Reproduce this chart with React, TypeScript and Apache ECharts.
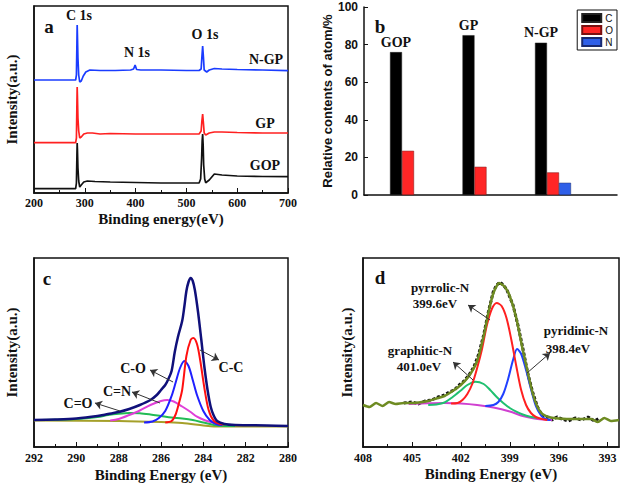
import React, { useEffect, useRef } from "react";
import * as echarts from "echarts";

const SERIF = '"Liberation Serif", "Times New Roman", serif';
const SANS = '"Liberation Sans", Arial, sans-serif';

// ---------- Panel a : XPS survey (binding energy eV, intensity a.u.) ----------
const surveyNGP: [number, number][] = [
  [200, 113], [250, 113], [282, 113], [283.5, 118], [284.5, 150], [285, 168], [285.5, 158], [286.5, 135],
  [288, 118], [290, 111], [293, 112], [297, 117], [302, 121], [310, 123], [330, 122.5], [360, 122.5],
  [390, 123], [396, 124], [399, 128], [402, 123.5], [410, 123], [450, 123], [500, 122.5], [525, 122.5],
  [529, 124], [530.5, 136], [532, 147], [533.5, 136], [535, 123], [540, 121], [545, 123], [555, 124.5],
  [570, 124], [600, 123.5], [650, 123], [700, 122.3],
];
const surveyGP: [number, number][] = [
  [200, 50.3], [250, 50.3], [282, 50.3], [283.5, 55], [284.5, 90], [285, 106], [285.5, 97], [286.5, 75],
  [288, 62], [290, 55], [293, 56], [298, 59], [305, 60], [315, 60], [330, 59], [350, 59.5], [400, 59],
  [450, 59], [500, 59], [525, 59], [529, 62], [530.5, 72], [532, 79], [533.5, 70], [535, 60], [538, 58],
  [545, 60], [555, 61], [570, 61], [600, 60.5], [650, 60], [700, 60],
];
const surveyGOP: [number, number][] = [
  [200, 4.3], [250, 4.3], [282, 4.3], [283.5, 10], [284.5, 38], [285, 50], [285.5, 44], [286.5, 25],
  [288, 12], [290, 6], [293, 8], [298, 11], [305, 12], [320, 11.5], [350, 11], [400, 10.5], [450, 10],
  [500, 10], [525, 10], [528, 14], [530, 35], [531, 52], [532, 59], [533, 48], [534, 28], [536, 14],
  [538, 10.3], [545, 13], [555, 19], [570, 18], [600, 17], [650, 16.5], [700, 16.3],
];

// ---------- Panel b : relative atom contents (%) ----------
const samples = ["GOP", "GP", "N-GP"];
const carbon = [76, 85, 81];
const oxygen = [23.5, 15, 12];
const nitrogen: (number | null)[] = [null, null, 6.5];
const yTicksB = [0, 20, 40, 60, 80, 100];

// ---------- Panel c : C 1s ----------
const c1sEnvelope: [number, number][] = [
  [292, 27], [291, 27.5], [290, 28.5], [289, 31], [288.5, 33], [288, 35], [287.5, 38], [287, 42], [286.5, 47],
  [286.2, 52], [286, 57], [285.8, 62], [285.65, 68], [285.5, 76], [285.35, 95], [285.2, 110], [285.0, 126],
  [284.9, 140], [284.8, 156], [284.7, 165], [284.6, 169], [284.5, 166], [284.4, 157], [284.25, 135],
  [284.1, 108], [283.95, 80], [283.8, 57], [283.65, 40], [283.5, 31], [283.35, 26], [283.0, 23],
  [282.5, 22], [281, 21.5], [280, 21],
];
const c1sCC: [number, number][] = [
  [285.8, 24.5], [285.5, 26], [285.3, 33], [285.15, 44], [285.0, 57], [284.8, 91], [284.6, 107],
  [284.47, 109], [284.3, 103], [284.15, 87], [283.95, 59], [283.75, 37], [283.5, 26], [283.2, 23], [283.0, 22.5],
];
const c1sCO: [number, number][] = [
  [286.8, 24.5], [286.4, 25.5], [286.1, 29], [285.8, 36], [285.5, 51], [285.3, 65], [285.1, 79], [284.9, 86],
  [284.7, 81], [284.5, 67], [284.3, 52], [284.0, 36], [283.7, 27], [283.4, 23], [283.1, 22],
];
const c1sCN: [number, number][] = [
  [288.4, 26.5], [288, 28], [287.5, 32], [287, 36.5], [286.5, 42], [286.0, 46], [285.7, 47], [285.4, 45.5],
  [285.0, 40.5], [284.6, 35], [284.3, 30.3], [283.9, 26.5], [283.5, 24], [283.1, 22],
];
const c1sCdO: [number, number][] = [
  [292, 27], [290, 28], [289, 30], [288.5, 32], [288, 33.3], [287.5, 34], [287, 33.7], [286.5, 32.5],
  [286, 31], [285.5, 29.5], [285, 28.5], [284.5, 27], [284, 24.5], [283.5, 22], [283, 21], [282.5, 21],
];
const c1sBase: [number, number][] = [
  [292, 26.5], [288, 26], [286, 25], [285, 24], [284, 21.5], [283.5, 20.5], [282, 20.5], [280, 20.5],
];

// ---------- Panel d : N 1s ----------
const n1sRaw: [number, number][] = [
  [405.5, 44], [405, 45], [404.6, 43], [404.2, 46], [403.8, 47], [403.4, 50], [403, 52], [402.7, 55],
  [402.4, 57], [402.1, 62], [401.8, 66], [401.5, 72], [401.2, 80], [400.9, 93], [400.6, 112], [400.3, 136],
  [400, 156], [399.8, 162], [399.6, 165], [399.4, 162], [399.2, 158], [399, 150], [398.8, 142], [398.5, 122],
  [398.2, 99], [397.9, 74], [397.6, 55], [397.3, 40], [397, 31], [396.7, 30], [396.4, 27], [396.1, 30],
  [395.8, 28], [395.4, 26], [395, 29], [394.6, 27], [394.2, 30], [393.8, 26], [393.5, 29],
];
const n1sEnvelope: [number, number][] = [
  [408, 42], [407.6, 40], [407.2, 44], [406.8, 41], [406.4, 45], [406, 43], [405.5, 44], [405, 44],
  [404, 46], [403.5, 48.5], [403, 51], [402.5, 56], [402, 62], [401.5, 71], [401, 86], [400.6, 111],
  [400.3, 135], [400, 154], [399.65, 164], [399.3, 160], [399, 151], [398.6, 129], [398.2, 97], [397.9, 75],
  [397.6, 54], [397.3, 40], [397, 33], [396.5, 29.5], [396, 28.5], [395, 28], [394, 28], [393.6, 25],
  [393.2, 29], [392.8, 26], [392.3, 27],
];
const n1sPyrrolic: [number, number][] = [
  [402.6, 43.5], [402.2, 44], [401.9, 47], [401.6, 53], [401.3, 63], [401, 79], [400.7, 98], [400.4, 122],
  [400.1, 138], [399.8, 144], [399.5, 141], [399.2, 129], [398.9, 107], [398.6, 81], [398.3, 57], [398, 42],
  [397.7, 34], [397.4, 30], [397, 28], [396.7, 27],
];
const n1sPyridinic: [number, number][] = [
  [400.5, 41], [400, 42], [399.7, 45], [399.4, 53], [399.1, 68], [398.8, 87], [398.55, 98], [398.3, 93],
  [398, 77], [397.7, 58], [397.4, 41], [397.1, 32], [396.8, 28], [396.5, 27],
];
const n1sGraphitic: [number, number][] = [
  [404, 42], [403.5, 42.5], [403, 44.5], [402.5, 50], [402, 56.5], [401.6, 62], [401.1, 65.3], [400.6, 63],
  [400.2, 57], [399.8, 50], [399.4, 44], [399, 39], [398.6, 35.3], [398.2, 32.5], [397.75, 30.3], [397.3, 29],
];
const n1sBackground: [number, number][] = [
  [405.2, 43], [404, 43.7], [403, 44], [402, 43.5], [401, 42], [400, 39.5], [399, 35.5], [398.2, 31],
  [397.5, 28.5], [396.9, 27.5], [396.4, 27],
];
const dMajorTicks = [393, 396, 399, 402, 405, 408];
const dMinorTicks = [394.5, 397.5, 400.5, 403.5, 406.5];

const axisLine = { show: true, lineStyle: { color: "#111", width: 1.5 } };
const tickLabel = { color: "#111", fontFamily: SERIF, fontWeight: "bold" as const, fontSize: 12 };
const nameStyle = { color: "#111", fontFamily: SERIF, fontWeight: "bold" as const, fontSize: 15 };

const line = (name: string, data: [number, number][], color: string, width: number, xi: number, yi: number, extra: any = {}) => ({
  name, type: "line", data, xAxisIndex: xi, yAxisIndex: yi, showSymbol: false, smooth: 0.3,
  lineStyle: { color, width }, itemStyle: { color }, silent: true, ...extra,
});

const arrows = (pairs: [[number, number], [number, number]][]) => ({
  silent: true, symbol: ["arrow", "none"], symbolSize: 7,
  lineStyle: { color: "#333", width: 1, type: "solid" }, label: { show: false },
  data: pairs.map(([a, b]) => [{ coord: a }, { coord: b }]),
});

const txt = (text: string, x: number, y: number, size = 14, font = SERIF) => ({
  type: "text", x, y, silent: true,
  style: { text, fill: "#111", font: `bold ${size}px ${font}`, align: "center", verticalAlign: "middle" },
});

const option: any = {
  animation: false,
  backgroundColor: "#fff",
  grid: [
    { left: 34, top: 6, width: 254, height: 187, show: true, borderColor: "#111", borderWidth: 1.5 },
    { left: 364, top: 7, width: 253, height: 188, show: false },
    { left: 34, top: 258, width: 254, height: 189, show: true, borderColor: "#111", borderWidth: 1.5 },
    { left: 363, top: 258, width: 256, height: 189, show: true, borderColor: "#111", borderWidth: 1.5 },
  ],
  xAxis: [
    {
      gridIndex: 0, type: "value", min: 200, max: 700, interval: 100, axisLine,
      axisTick: { inside: true, length: 5, lineStyle: { color: "#111" } },
      minorTick: { show: true, splitNumber: 2, length: 3, lineStyle: { color: "#111" } },
      splitLine: { show: false }, axisLabel: { ...tickLabel, margin: 4 },
      name: "Binding energy(eV)", nameLocation: "middle", nameGap: 18, nameTextStyle: nameStyle,
    },
    {
      gridIndex: 1, type: "value", min: 0.393, max: 3.883, axisLine,
      axisTick: { show: false }, axisLabel: { show: false }, splitLine: { show: false },
    },
    {
      gridIndex: 2, type: "value", min: 280, max: 292, interval: 2, inverse: true, axisLine,
      axisTick: { inside: true, length: 5, lineStyle: { color: "#111" } },
      minorTick: { show: true, splitNumber: 2, length: 3, lineStyle: { color: "#111" } },
      splitLine: { show: false }, axisLabel: { ...tickLabel, margin: 5 },
      name: "Binding Energy (eV)", nameLocation: "middle", nameGap: 20, nameTextStyle: nameStyle,
    },
    {
      gridIndex: 3, type: "value", min: 392.3, max: 408, inverse: true, axisLine,
      axisTick: { inside: true, length: 5, customValues: dMajorTicks, lineStyle: { color: "#111" } },
      splitLine: { show: false }, axisLabel: { ...tickLabel, margin: 5, customValues: dMajorTicks },
      name: "Binding Energy (eV)", nameLocation: "middle", nameGap: 19, nameTextStyle: nameStyle,
    },
    {
      gridIndex: 3, type: "value", min: 392.3, max: 408, inverse: true, position: "bottom",
      axisLine: { show: false },
      axisTick: { inside: true, length: 3, customValues: dMinorTicks, lineStyle: { color: "#111" } },
      axisLabel: { show: false }, splitLine: { show: false },
    },
  ],
  yAxis: [
    {
      gridIndex: 0, type: "value", min: 0, max: 187, axisLine, axisTick: { show: false },
      axisLabel: { show: false }, splitLine: { show: false },
      name: "Intensity(a.u.)", nameLocation: "middle", nameGap: 15, nameTextStyle: nameStyle,
    },
    {
      gridIndex: 1, type: "value", min: 0, max: 100, interval: 20, axisLine,
      axisTick: { show: true, inside: true, length: 4, lineStyle: { color: "#111" } },
      splitLine: { show: false },
      axisLabel: { color: "#111", fontFamily: SANS, fontWeight: "bold", fontSize: 12, margin: 6, customValues: yTicksB },
      name: "Relative contents of atom/%", nameLocation: "middle", nameGap: 29,
      nameTextStyle: { color: "#111", fontFamily: SANS, fontWeight: "bold", fontSize: 13 },
    },
    {
      gridIndex: 2, type: "value", min: 0, max: 189, axisLine, axisTick: { show: false },
      axisLabel: { show: false }, splitLine: { show: false },
      name: "Intensity(a.u.)", nameLocation: "middle", nameGap: 15, nameTextStyle: nameStyle,
    },
    {
      gridIndex: 3, type: "value", min: 0, max: 189, axisLine, axisTick: { show: false },
      axisLabel: { show: false }, splitLine: { show: false },
      name: "Intensity(a.u.)", nameLocation: "middle", nameGap: 9, nameTextStyle: nameStyle,
    },
  ],
  legend: {
    data: ["C", "O", "N"], orient: "vertical", right: 9, top: 10, borderColor: "#111", borderWidth: 1,
    padding: [3, 4, 3, 4], itemGap: 2, itemWidth: 19, itemHeight: 8, icon: "rect",
    textStyle: { fontFamily: SANS, fontSize: 10, color: "#111", padding: [0, 0, 0, -1] }, selectedMode: false,
  },
  series: [
    // panel a
    line("a-GOP", surveyGOP, "#111", 1.7, 0, 0, { smooth: false }),
    line("a-GP", surveyGP, "#ff2020", 1.7, 0, 0, { smooth: false }),
    line("a-NGP", surveyNGP, "#1a3cff", 1.7, 0, 0, { smooth: false }),
    // panel b
    {
      name: "C", type: "bar", xAxisIndex: 1, yAxisIndex: 1, barWidth: 12, barGap: "0%",
      data: samples.map((s, i) => ({ name: s, value: [i + 1, carbon[i]] })),
      itemStyle: { color: "#000", borderColor: "#222", borderWidth: 0.5 },
      label: {
        show: true, position: "top", distance: 3, formatter: (p: any) => p.name,
        fontFamily: SERIF, fontWeight: "bold", fontSize: 14, color: "#111",
      },
    },
    {
      name: "O", type: "bar", xAxisIndex: 1, yAxisIndex: 1, barWidth: 12, barGap: "0%",
      data: samples.map((s, i) => ({ name: s, value: [i + 1, oxygen[i]] })),
      itemStyle: { color: "#ff2626", borderColor: "#7a1010", borderWidth: 0.5 },
    },
    {
      name: "N", type: "bar", xAxisIndex: 1, yAxisIndex: 1, barWidth: 12, barGap: "0%",
      data: samples.map((s, i) => ({ name: s, value: [i + 1, nitrogen[i]] })),
      itemStyle: { color: "#2f5fe8", borderColor: "#1a2a70", borderWidth: 0.5 },
    },
    // panel c
    line("c-base", c1sBase, "#a5a02a", 2, 2, 2),
    line("c-C=O", c1sCdO, "#22bb55", 2, 2, 2, {
      markLine: arrows([[[289.12, 44], [287.94, 36]]]),
    }),
    line("c-C=N", c1sCN, "#e040d8", 2, 2, 2, {
      markLine: arrows([[[287.37, 55], [286.05, 44]]]),
    }),
    line("c-C-O", c1sCO, "#2020ff", 2, 2, 2, {
      markLine: arrows([[[286.52, 77], [285.43, 65]]]),
    }),
    line("c-C-C", c1sCC, "#ff1010", 2, 2, 2, {
      markLine: arrows([[[283.26, 87], [284.16, 97]]]),
    }),
    line("c-env", c1sEnvelope, "#10107a", 2.5, 2, 2),
    // panel d
    line("d-raw", n1sRaw, "#111", 3, 3, 3, { smooth: false, lineStyle: { color: "#111", width: 3, type: [3, 2] } }),
    line("d-bg", n1sBackground, "#d040d0", 2, 3, 3),
    line("d-graphitic", n1sGraphitic, "#20c070", 2, 3, 3, {
      markLine: arrows([[[402.48, 85], [401.25, 67]]]),
    }),
    line("d-pyridinic", n1sPyridinic, "#2040ff", 2, 3, 3, {
      markLine: arrows([[[396.53, 94], [397.94, 74]]]),
    }),
    line("d-pyrrolic", n1sPyrrolic, "#ff2020", 2, 3, 3, {
      markLine: arrows([[[401.56, 142], [400.21, 127]]]),
    }),
    line("d-env", n1sEnvelope, "#6e8b22", 2.5, 3, 3, { smooth: 0.2 }),
  ],
  graphic: [
    txt("a", 49, 26, 19), txt("C 1s", 79, 15), txt("N 1s", 137, 52), txt("O 1s", 205, 34),
    txt("N-GP", 266, 59), txt("GP", 265, 123), txt("GOP", 265, 165),
    txt("b", 380, 26, 19),
    txt("c", 47, 278, 19), txt("C-C", 231, 367), txt("C-O", 133, 368), txt("C=N", 117, 391), txt("C=O", 78, 403),
    txt("d", 380, 277, 19),
    txt("pyrrolic-N", 440, 287, 13), txt("399.6eV", 435, 303, 13),
    txt("pyridinic-N", 576, 330, 13), txt("398.4eV", 568, 348, 13),
    txt("graphitic-N", 420, 350, 13), txt("401.0eV", 419, 366, 13),
  ],
};

export default function App() {
  const ref = useRef<HTMLDivElement>(null);
  useEffect(() => {
    const chart = echarts.init(ref.current!, null, { renderer: "svg" });
    chart.setOption(option);
    return () => chart.dispose();
  }, []);
  return (
    <div
      ref={ref}
      style={{ position: "fixed", left: 0, top: 0, width: 626, height: 489, background: "#fff" }}
    />
  );
}
